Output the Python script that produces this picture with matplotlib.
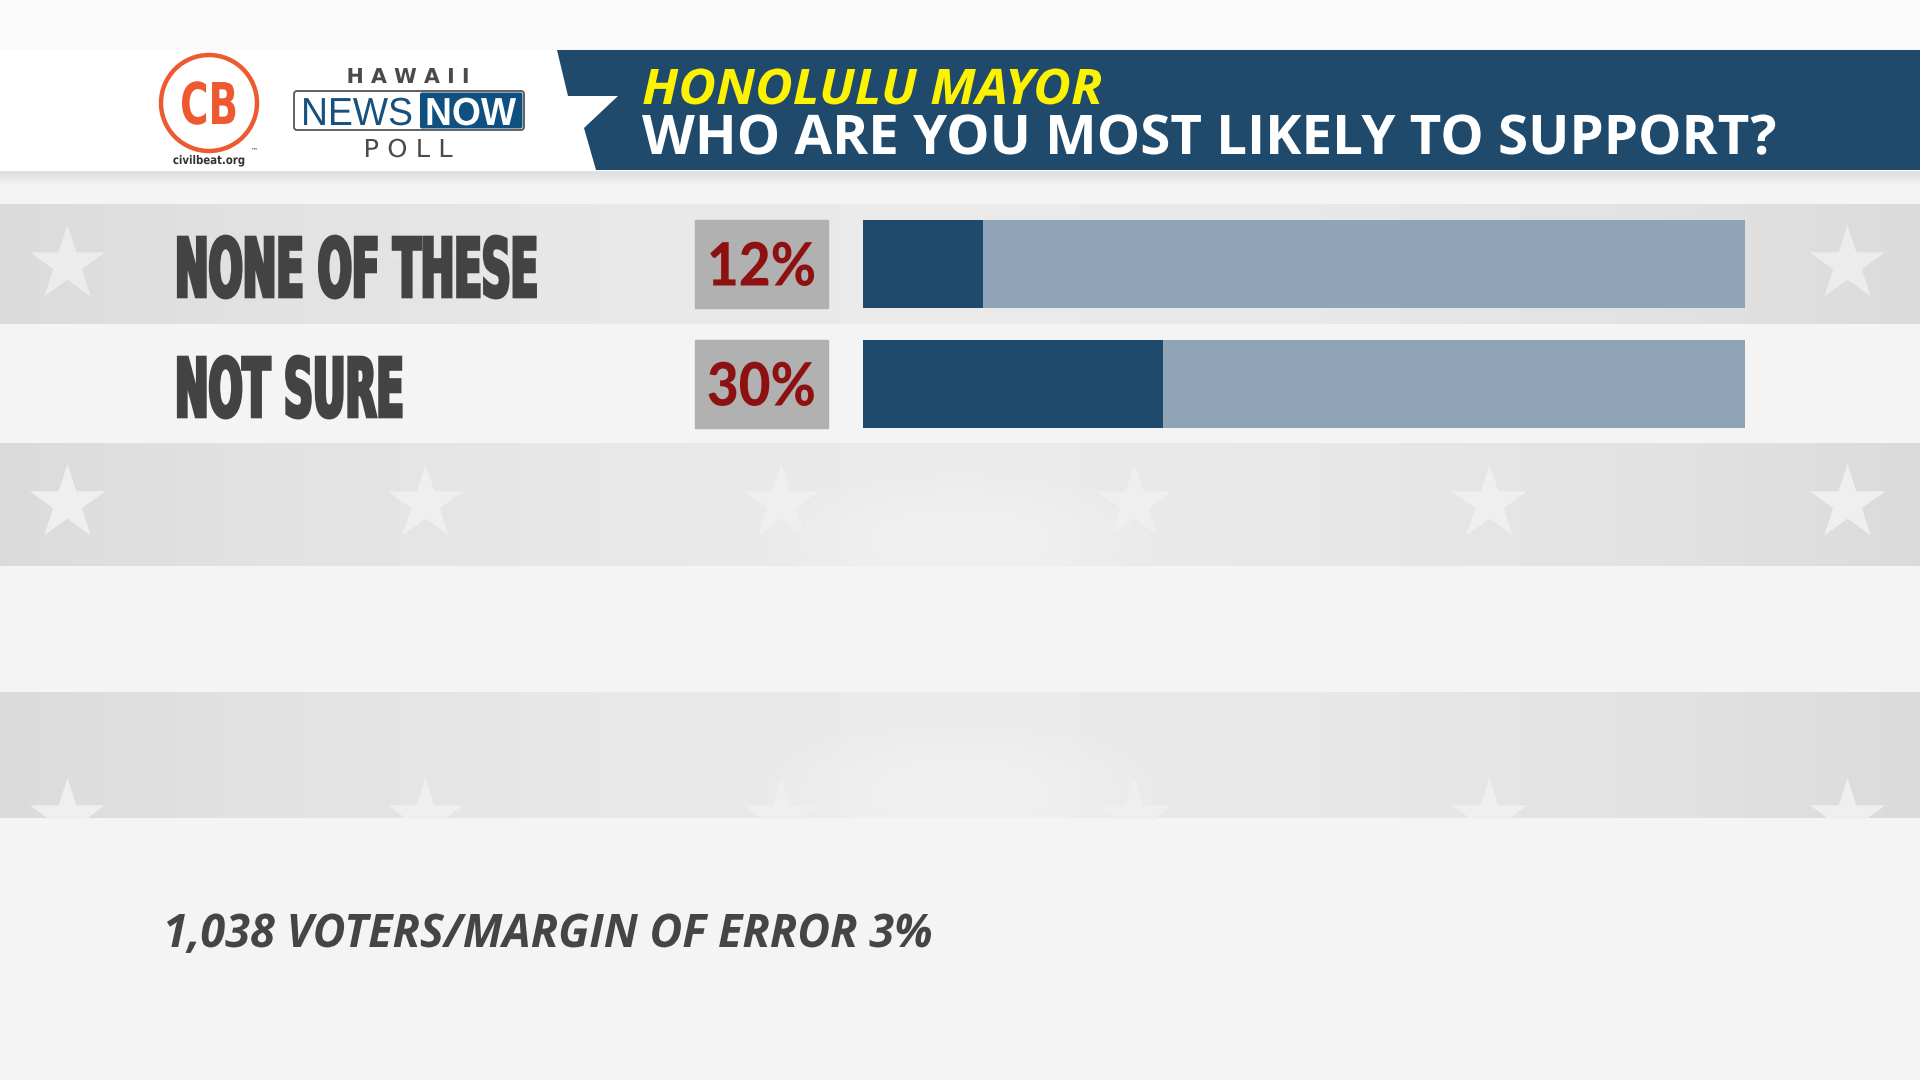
import numpy as np
import matplotlib
matplotlib.use("Agg")
import matplotlib.pyplot as plt
from matplotlib.patches import Rectangle, Polygon, Circle, FancyBboxPatch
from matplotlib.patheffects import AbstractPathEffect
from matplotlib.transforms import Affine2D

# ---------------- data ----------------
title_top = "HONOLULU MAYOR"
title_main = "WHO ARE YOU MOST LIKELY TO SUPPORT?"
categories = ["NONE OF THESE", "NOT SURE"]
values = [12, 30]
track_max = 88.2
footer = "1,038 VOTERS/MARGIN OF ERROR 3%"

# ---------------- style ----------------
NAVY = "#1f4a6c"
TRACK = "#8fa4b6"
BG = "#f4f4f4"
BOX = "#b1b1b1"
RED = "#8e1111"
ORANGE = "#ee5a30"

W, H = 1920, 1080
fig = plt.figure(figsize=(W / 100, H / 100), dpi=100)
fig.patch.set_facecolor(BG)
ax = fig.add_axes([0, 0, 1, 1])
ax.axis("off")


class VScale(AbstractPathEffect):
    """Vertical stretch of text glyphs around the baseline, with optional stroke."""

    def __init__(self, sy, y0, stroke=0.0, color=None):
        super().__init__()
        self.sy, self.y0, self.stroke, self.color = sy, y0, stroke, color

    def draw_path(self, renderer, gc, tpath, affine, rgbFace=None):
        aff = affine + Affine2D().translate(0, -self.y0).scale(1, self.sy).translate(0, self.y0)
        if self.stroke:
            gc0 = renderer.new_gc()
            gc0.copy_properties(gc)
            gc0.set_linewidth(self.stroke)
            gc0.set_foreground(self.color)
            gc0.set_joinstyle("miter")
            renderer.draw_path(gc0, tpath, aff, rgbFace)
            gc0.restore()
        else:
            renderer.draw_path(gc, tpath, aff, rgbFace)


fits = []


def ftext(x, y, s, target_w, anchor="left", stroke=0.0, **kw):
    t = ax.text(x, y, s, ha=anchor, va="baseline", **kw)
    fits.append((t, target_w, stroke, kw.get("color", "k")))
    return t


def hband(y0, y1, edge, center, z, power=2.0):
    xx = np.linspace(-1, 1, 600)
    prof = edge + (center - edge) * (1 - np.abs(xx) ** power)
    img = np.tile(prof, (2, 1))
    ax.imshow(img, cmap="gray", vmin=0, vmax=1, extent=(0, W, y1, y0),
              aspect="auto", zorder=z, interpolation="bilinear")


# ---------------- background ----------------
ax.add_patch(Rectangle((0, 0), W, 50, color="#fafafa", zorder=1))
sh = np.linspace(0.86, 0.957, 20)[:, None] * np.ones((1, 2))
ax.imshow(sh, cmap="gray", vmin=0, vmax=1, extent=(0, W, 186, 170), aspect="auto",
          zorder=1, interpolation="bilinear")

band_rows = [(204, 324), (443, 566), (692, 818)]
for (y0, y1) in band_rows:
    hband(y0, y1, 0.855, 0.915, 2)
for (y0, y1) in band_rows[1:]:
    xx = np.linspace(-1, 1, 600)
    yy = np.linspace(-1, 1, 60)
    X, Y = np.meshgrid(xx, yy)
    glow = np.clip(1 - (X / 0.22) ** 2 - ((Y - 0.6) / 1.3) ** 2, 0, 1)
    rgba = np.zeros((60, 600, 4))
    rgba[..., :3] = 0.955
    rgba[..., 3] = glow * 0.7
    ax.imshow(rgba, extent=(0, W, y1, y0), aspect="auto", zorder=2.5, interpolation="bilinear")

star_x = [67, 425, 781, 1134, 1489, 1847]
star_s = 57 ** 2
ax.scatter([67, 1847], [264, 264], marker="*", s=star_s, color="#ececec", linewidths=0, zorder=3)
ax.scatter([425], [264], marker="*", s=star_s, color="#e6e6e6", linewidths=0, zorder=3)
ax.scatter(star_x, [503] * len(star_x), marker="*", s=star_s, color="#efefef", linewidths=0, zorder=3)
clip = Rectangle((0, 692), W, 126, transform=ax.transData, facecolor="none", edgecolor="none")
ax.add_patch(clip)
sc = ax.scatter(star_x, [817] * len(star_x), marker="*", s=star_s, color="#efefef", linewidths=0, zorder=3)
sc.set_clip_path(clip)

# ---------------- header ----------------
ax.add_patch(Rectangle((0, 50), W, 120, color="white", zorder=4))
ax.add_patch(Polygon([(557, 50), (W, 50), (W, 170), (596, 170), (584, 128),
                      (618, 96), (568, 96)], closed=True, color=NAVY, zorder=5, lw=0))

ftext(642, 104, title_top, 460, fontsize=35 / 0.714 * 0.72,
      family="Open Sans", weight="bold", style="italic", color="#fdf300", zorder=6)
ftext(642, 154, title_main, 1134, fontsize=39 / 0.714 * 0.72, family="Open Sans",
      weight="bold", color="white", zorder=6)

# logo: Civil Beat
ax.add_patch(Circle((209, 103), 48, facecolor="none", edgecolor=ORANGE, lw=3.2, zorder=6))
ftext(209, 124, "CB", 58, anchor="center", fontsize=42 / 0.729 * 0.72, family="DejaVu Sans",
      weight="bold", color=ORANGE, zorder=6)
ax.text(254, 150, "™", fontsize=5, color="#444444", ha="center", va="center", zorder=6)
ftext(209, 164, "civilbeat.org", 72, anchor="center", fontsize=8.5, family="DejaVu Sans",
      weight="bold", color="#333333", zorder=6)

# logo: Hawaii News Now
ftext(408, 83, "H A W A I I", 123, anchor="center", fontsize=15 / 0.729 * 0.72,
      family="DejaVu Sans", weight="bold", color="#4a4a4a", zorder=6)
ax.add_patch(FancyBboxPatch((294, 91), 230, 39, boxstyle="round,pad=0,rounding_size=3",
                            facecolor="white", edgecolor="#555555", lw=1.3, zorder=6))
ax.add_patch(FancyBboxPatch((420, 92.5), 102.5, 36, boxstyle="round,pad=0,rounding_size=2",
                            facecolor="#0f5080", edgecolor="none", zorder=6.5))
ftext(301, 125, "NEWS", 112, fontsize=28 / 0.716 * 0.72, family="Liberation Sans",
      color="#15507f", zorder=7)
ftext(425, 125, "NOW", 91, fontsize=28 / 0.716 * 0.72, family="Liberation Sans",
      weight="bold", color="white", zorder=7)
ftext(408, 157, "P O L L", 89, anchor="center", fontsize=18 / 0.729 * 0.72,
      family="DejaVu Sans", color="#4a4a4a", zorder=6)

# ---------------- rows ----------------
label_w = {"NONE OF THESE": 366, "NOT SURE": 232}
for i, (cat, v) in enumerate(zip(categories, values)):
    yc = 264 + 120 * i
    ftext(175, yc + 32.5, cat, label_w.get(cat, 30 * len(cat)), stroke=2.6,
          fontsize=59 / 0.729 * 0.72, family="DejaVu Sans", weight="bold",
          color="#434343", zorder=6)
    ax.add_patch(Rectangle((695, yc - 44), 133, 88, color=BOX, zorder=6))
    ftext(761.5, yc + 21.5, f"{v}%", 109, anchor="center", fontsize=43,
          family="Lato", weight="black", color=RED, zorder=7)

# bars through their own axes
bax = fig.add_axes([863 / W, 1 - 444 / H, (1745 - 863) / W, (444 - 204) / H])
bax.set_xlim(0, track_max)
bax.set_ylim(len(categories) - 0.5, -0.5)
bax.axis("off")
ypos = np.arange(len(categories))
bax.barh(ypos, [track_max] * len(categories), height=88 / 120, color=TRACK, zorder=1)
bax.barh(ypos, values, height=88 / 120, color=NAVY, zorder=2)
bax.patch.set_alpha(0)

# footer
ftext(163, 947, footer, 770, fontsize=33 / 0.714 * 0.72, family="Open Sans", weight="bold",
      style="italic", color="#454545", zorder=6)

ax.set_xlim(0, W)
ax.set_ylim(H, 0)

# ---------------- fit text widths (resize font to width, stretch height back) ----------------
fig.canvas.draw()
r = fig.canvas.get_renderer()
for t, tw, stroke, col in fits:
    bb = t.get_window_extent(r)
    spx = stroke * 100 / 72
    sx = (tw - spx) / max(bb.width, 1)
    t.set_fontsize(t.get_fontsize() * sx)
    y0 = ax.transData.transform(t.get_position())[1]
    t.set_path_effects([VScale(1.0 / sx, y0, stroke, col)])

fig.savefig("out.png", dpi=100, facecolor=fig.get_facecolor())
